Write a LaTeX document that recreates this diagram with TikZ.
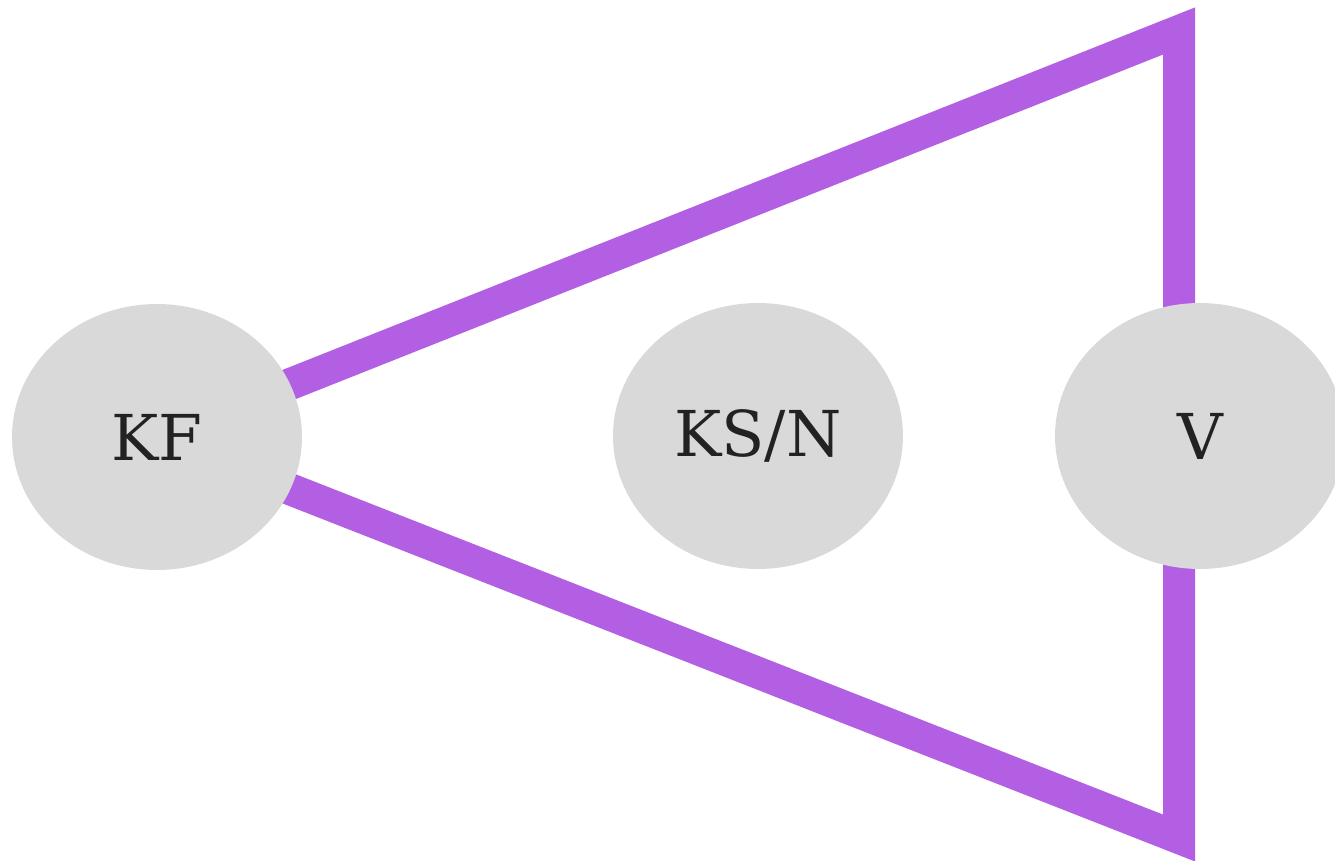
\documentclass[tikz,border=0pt]{standalone}
\usepackage{fontspec}
\setmainfont{DejaVu Serif}
\usetikzlibrary{shapes.geometric, positioning, backgrounds}
\definecolor{edgepurple}{HTML}{B25FE3}
\definecolor{nodegray}{HTML}{D9D9D9}
\definecolor{labelgray}{HTML}{222222}

\begin{document}
\begin{tikzpicture}[x=0.02cm, y=-0.02cm,
  circ/.style={ellipse, fill=nodegray, draw=none, inner sep=0pt, minimum width=5.8cm, minimum height=5.32cm, text=labelgray, font=\fontsize{36}{40}\selectfont},
  edge/.style={draw=edgepurple, line width=0.64cm, line join=miter}
]
  \useasboundingbox (0,0) rectangle (1335,861);
  \clip (0,0) rectangle (1335,861);

  % Nodes
  \node[circ] (KF) at (157,437) {KF};
  \node[circ] (KSN) at (758,436) {KS/N};
  \node[circ] (V) at (1200,436) {V};

  % Corners
  \coordinate (top) at (1179,31);
  \coordinate (bot) at (1179,838);

  % Triangle
  \begin{scope}[on background layer]
    \draw[edge] (KF.center) -- (top) -- (bot) -- cycle;
  \end{scope}
\end{tikzpicture}
\end{document}
